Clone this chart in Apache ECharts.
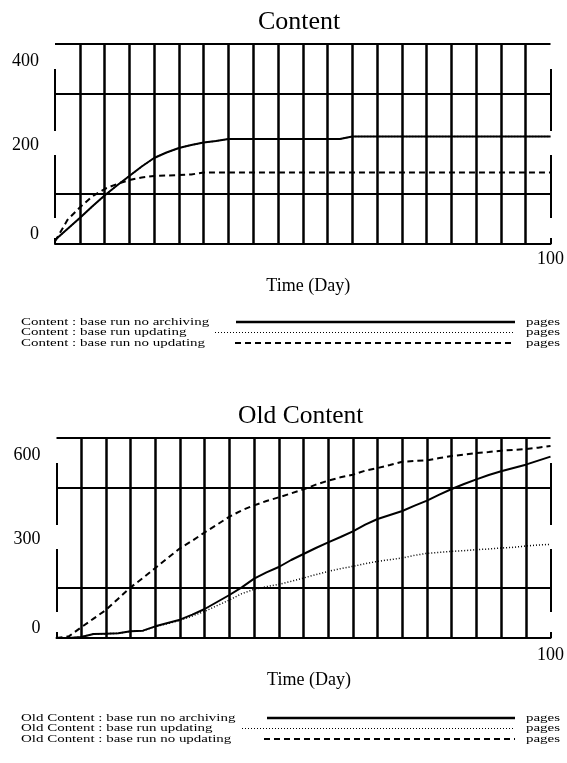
<!DOCTYPE html>
<html>
<head>
<meta charset="utf-8">
<script src="https://cdn.jsdelivr.net/npm/echarts@6/dist/echarts.min.js"></script>
<style>
  html, body { margin: 0; padding: 0; background: #fff; }
  #chart { width: 567px; height: 763px; }
</style>
</head>
<body>
<div id="chart"></div>
<script>
// Simulation time (days)
const days = [0,2.5,5,7.5,10,12.5,15,17.5,20,22.5,25,27.5,30,32.5,35,37.5,40,42.5,45,47.5,50,52.5,55,57.5,60,62.5,65,67.5,70,72.5,75,77.5,80,82.5,85,87.5,90,92.5,95,97.5,100];

// Content (pages)
const contentNoArchiving = [8,30,52,75,97,117,136,155,172,183,192,198,203,206,210,210,210,210,210,210,210,210,210,210,215,215,215,215,215,215,215,215,215,215,215,215,215,215,215,215,215];
const contentUpdating    = [8,30,52,75,97,117,136,155,172,183,192,198,203,206,210,210,210,210,210,210,210,210,210,210,215,215,215,215,215,215,215,215,215,215,215,215,215,215,215,215,215];
const contentNoUpdating  = [5,48,73,95,110,120,128,133,136,137,138,139,143,143,143,143,143,143,143,143,143,143,143,143,143,143,143,143,143,143,143,143,143,143,143,143,143,143,143,143,143];

// Old Content (pages)
const oldNoArchiving = [0,0,3,12,13,14,20,22,35,45,55,70,87,108,129,152,178,197,213,234,252,270,287,303,320,340,357,369,381,397,412,430,447,462,476,489,500,510,520,532,544];
const oldUpdating    = [0,0,3,12,13,14,20,22,34,43,53,66,80,97,114,133,146,154,161,170,180,190,200,208,215,223,230,235,240,248,254,257,260,262,265,267,270,272,276,279,281];
const oldNoUpdating  = [0,5,32,58,84,118,152,180,210,240,269,292,317,340,364,383,398,411,422,434,446,460,472,482,490,502,510,519,529,531,533,540,546,550,555,558,562,564,567,571,576];

// Axis ranges
const contentMax = 400;
const oldMax = 600;
const dayMax = 100;

const FONT = '"Liberation Serif", "Times New Roman", serif';
const BLACK = '#000';

const chart = echarts.init(document.getElementById('chart'), null, { renderer: 'canvas' });

function pairs(vals) { return days.map((d, i) => [d, vals[i]]); }

// y-axis labels only at bottom, middle and top, nudged inward
function yLabels(max) {
  return {
    show: true,
    margin: 16,
    color: BLACK,
    fontFamily: FONT,
    fontSize: 18,
    formatter: function (v) {
      if (v === max) return '{t|' + v + '}';
      if (v === max / 2) return '{m|' + v + '}';
      if (v === 0) return '{b|0}';
      return '';
    },
    rich: {
      t: { fontFamily: FONT, fontSize: 18, color: BLACK, padding: [34, 0, 0, 0] },
      m: { fontFamily: FONT, fontSize: 18, color: BLACK, padding: [3, 0, 0, 0] },
      b: { fontFamily: FONT, fontSize: 18, color: BLACK, padding: [0, 0, 19, 0] }
    }
  };
}

// frame: horizontal rules at the quarters and top, side borders broken around labels
const sideGaps = [[0.875, 0.565], [0.445, 0.13], [0.03, 0]];
function frameLines(max) {
  const data = [
    { yAxis: max / 4 },
    { yAxis: max * 3 / 4 },
    { yAxis: max }
  ];
  sideGaps.forEach(function (s) {
    [0, dayMax].forEach(function (x) {
      data.push([{ coord: [x, s[0] * max] }, { coord: [x, s[1] * max] }]);
    });
  });
  return {
    silent: true,
    symbol: ['none', 'none'],
    label: { show: false },
    lineStyle: { color: BLACK, width: 2, type: 'solid' },
    emphasis: { disabled: true },
    data: data
  };
}

function xAxisFor(gridIndex, labelMargin) {
  return {
    type: 'value', gridIndex: gridIndex, min: 0, max: dayMax, interval: 5,
    name: 'Time (Day)', nameLocation: 'middle', nameGap: 33,
    nameTextStyle: { fontFamily: FONT, fontSize: 18, color: BLACK, padding: [0, 0, 0, 11] },
    axisLine: { show: true, onZero: false, lineStyle: { color: BLACK, width: 2 } },
    axisTick: { show: false },
    axisLabel: {
      show: true, margin: labelMargin, color: BLACK, fontFamily: FONT, fontSize: 18,
      formatter: function (v) { return v === dayMax ? String(v) : ''; }
    },
    splitLine: { show: true, showMinLine: false, showMaxLine: false, lineStyle: { color: BLACK, width: 2.5 } }
  };
}

function yAxisFor(gridIndex, max) {
  return {
    type: 'value', gridIndex: gridIndex, min: 0, max: max, interval: max / 4,
    axisLine: { show: false }, axisTick: { show: false },
    splitLine: { show: false },
    axisLabel: yLabels(max)
  };
}

const solid = { color: BLACK, width: 2, type: 'solid' };
const dotted = { color: BLACK, width: 1.5, type: [1, 2] };
const dashed = { color: BLACK, width: 2, type: [6, 4] };

function lineSeries(name, gi, vals, style, z) {
  return {
    name: name, type: 'line', xAxisIndex: gi, yAxisIndex: gi,
    data: pairs(vals), showSymbol: false, symbol: 'none',
    lineStyle: style, z: z, silent: true, animation: false
  };
}

// legend rows: label, line sample, unit (short, wide lettering)
const LEG_FONT = '11px ' + FONT;
const LEG_SX = 1.36;
function legendRows(prefix, top, step, lineLeft) {
  const rows = [
    ['base run no archiving', solid, lineLeft[0]],
    ['base run updating', dotted, lineLeft[1]],
    ['base run no updating', dashed, lineLeft[2]]
  ];
  const els = [];
  rows.forEach(function (r, i) {
    const y = top + i * step;
    els.push({ type: 'text', x: 21, y: y, scaleX: LEG_SX,
      style: { text: prefix + ' : ' + r[0], font: LEG_FONT, fill: BLACK, verticalAlign: 'middle' } });
    els.push({ type: 'line', shape: { x1: r[2], y1: y, x2: 515, y2: y },
      style: { stroke: BLACK, lineWidth: r[1] === solid ? 2.5 : (r[1] === dotted ? 1 : 2),
               lineDash: r[1] === solid ? null : r[1].type } });
    els.push({ type: 'text', x: 526, y: y, scaleX: LEG_SX,
      style: { text: 'pages', font: LEG_FONT, fill: BLACK, verticalAlign: 'middle' } });
  });
  return els;
}

const option = {
  backgroundColor: '#fff',
  animation: false,
  title: [
    { text: 'Content', left: 253, top: 4,
      textStyle: { fontFamily: FONT, fontSize: 26, fontWeight: 'normal', color: BLACK } },
    { text: 'Old Content', left: 233, top: 398,
      textStyle: { fontFamily: FONT, fontSize: 25.5, fontWeight: 'normal', color: BLACK } }
  ],
  grid: [
    { left: 55, top: 44, width: 500, height: 200 },
    { left: 56.5, top: 438, width: 500, height: 200 }
  ],
  xAxis: [xAxisFor(0, 6), xAxisFor(1, 8)],
  yAxis: [yAxisFor(0, contentMax), yAxisFor(1, oldMax)],
  series: [
    Object.assign(lineSeries('Content : base run updating', 0, contentUpdating, dotted, 2), { markLine: frameLines(contentMax) }),
    lineSeries('Content : base run no updating', 0, contentNoUpdating, dashed, 3),
    lineSeries('Content : base run no archiving', 0, contentNoArchiving, solid, 4),
    Object.assign(lineSeries('Old Content : base run updating', 1, oldUpdating, dotted, 2), { markLine: frameLines(oldMax) }),
    lineSeries('Old Content : base run no updating', 1, oldNoUpdating, dashed, 3),
    lineSeries('Old Content : base run no archiving', 1, oldNoArchiving, solid, 4)
  ],
  graphic: legendRows('Content', 322, 10.5, [236, 215, 235]).concat(legendRows('Old Content', 718, 10.5, [267, 242, 264]))
};

chart.setOption(option);
</script>
</body>
</html>
